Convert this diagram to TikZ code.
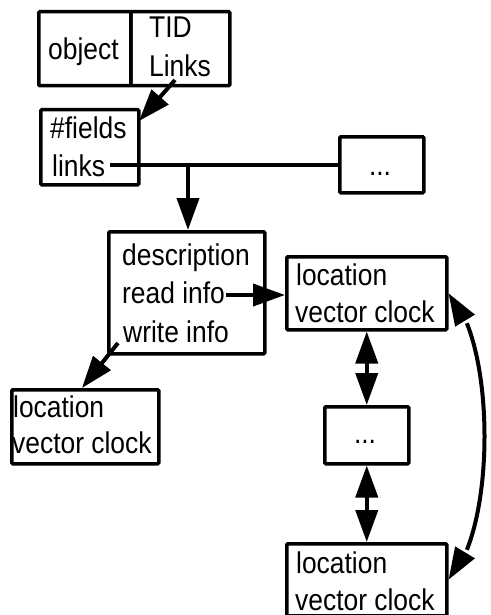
\documentclass[tikz,border=0pt]{standalone}
\usepackage{fontspec}
\setmainfont[FakeStretch=0.88]{Liberation Sans}
\usetikzlibrary{arrows.meta,bending,calc}
\begin{document}
\begin{tikzpicture}[x=1pt,y=-1pt,
  box/.style={draw,line width=3.5pt,rounded corners=1pt,anchor=north west,inner sep=0pt},
  txt/.style={anchor=base west,inner sep=0pt,font=\fontsize{30}{36}\selectfont},
  ctxt/.style={anchor=base,inner sep=0pt,font=\fontsize{30}{36}\selectfont},
  conn/.style={line width=4pt},
  tip/.style={Triangle[length=32pt,width=22pt]},
  arr/.style={line width=4pt,-{Triangle[length=32pt,width=22pt]}},
  dbl/.style={line width=4pt,{Triangle[length=32pt,width=22pt]}-{Triangle[length=32pt,width=22pt]}}]
\useasboundingbox (0,0) rectangle (490,615);
\fill[white] (0,0) rectangle (490,615);
% boxes
\node[box,minimum width=92pt,minimum height=74pt] (obj) at (37,10) {};
\node[box,minimum width=99pt,minimum height=74pt] (tid) at (129,10) {};
\node[box,minimum width=98pt,minimum height=75pt] (fields) at (39,108) {};
\node[box,minimum width=84pt,minimum height=56pt] (dots1) at (338,135) {};
\node[box,minimum width=156pt,minimum height=122pt] (desc) at (107,230) {};
\node[box,minimum width=160pt,minimum height=73pt] (loc1) at (285,255) {};
\node[box,minimum width=84pt,minimum height=57pt] (dots2) at (323,405) {};
\node[box,minimum width=160pt,minimum height=72pt] (loc2) at (285,542) {};
\node[box,minimum width=147pt,minimum height=74pt] (loc0) at (10,388) {};
% texts
\node[txt] (tobj) at (48,60) {object};
\node[txt] (ttid) at (149,38) {TID};
\node[txt] (tlinks) at (149,77) {Links};
\node[txt] (tfields) at (50,138) {\#fields};
\node[txt] (tlk) at (52,176) {links};
\node[ctxt] (tdots1) at (380,175) {...};
\node[txt] (tdesc) at (122,265) {description};
\node[txt] (tread) at (122,303) {read info};
\node[txt] (twrite) at (123,342) {write info};
\node[txt] (tl1a) at (296,285) {location};
\node[txt] (tl1b) at (295,322) {vector clock};
\node[ctxt] (tdots2) at (365,443) {...};
\node[txt] (tl2a) at (296,573) {location};
\node[txt] (tl2b) at (295,610) {vector clock};
\node[txt] (tl0a) at (13,417) {location};
\node[txt] (tl0b) at (12,453) {vector clock};
% connectors
\coordinate (tidstart) at (175,80);
\coordinate (tidend) at (139,121);
\draw[arr] (tidstart) -- (tidend);
\coordinate (lk) at (110,165);
\draw[conn] (lk) -- (lk -| dots1.west);
\coordinate (jn) at (188,165);
\draw[arr] (jn) -- (jn |- desc.north);
\coordinate (ri) at (226,295);
\draw[arr] (ri) -- (ri -| loc1.west);
\coordinate (wi) at (118,343);
\coordinate (wiend) at (82,388);
\draw[arr] (wi) -- (wiend);
\draw[dbl] (loc1.south -| dots2.north) -- (dots2.north);
\draw[dbl] (dots2.south) -- (dots2.south |- loc2.north);
\draw[dbl] (loc1.east) .. controls +(48,47) and +(48,-47) .. (loc2.east);
\end{tikzpicture}
\end{document}
